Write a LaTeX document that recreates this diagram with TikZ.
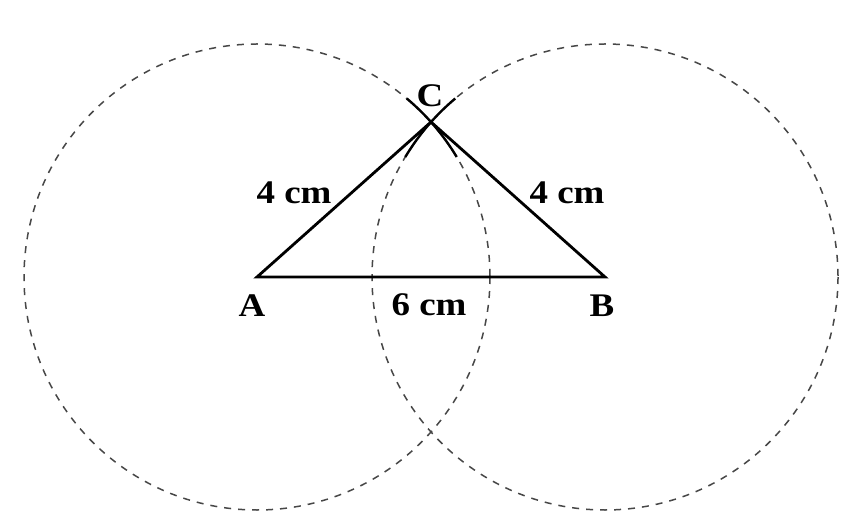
\documentclass[tikz,border=0pt]{standalone}
\usepackage{fontspec}
\setmainfont{Liberation Serif}
\begin{document}
\begin{tikzpicture}[x=1pt,y=-1pt,
  construct/.style={draw=black!72, line width=1.5pt, dash pattern=on 7pt off 7pt},
  side/.style={draw=black, line width=2.8pt, line cap=round, line join=miter},
  arcmark/.style={draw=black, line width=2.4pt},
  lbl/.style={font=\fontsize{33}{36}\selectfont\bfseries, inner sep=0pt, xscale=1.12}]
\useasboundingbox (0,0) rectangle (856,526);
\fill[white] (0,0) rectangle (856,526);
\coordinate (A) at (257,277);
\coordinate (B) at (605,277);
\coordinate (C) at (431,122);
% construction circles
\draw[construct] (A) circle[radius=233];
\draw[construct] (B) circle[radius=233];
% arc marks at C
\draw[arcmark] (A) ++(-31:233) arc[start angle=-31, end angle=-50, radius=233];
\draw[arcmark] (B) ++(-130:233) arc[start angle=-130, end angle=-149, radius=233];
% triangle
\draw[side] (A) -- (C) -- (B) -- cycle;
% labels
\node[lbl] (lA) at (252,306) {A};
\node[lbl] (lB) at (602,306) {B};
\node[lbl] (lC) at (430,96) {C};
\node[lbl] (lAC) at (294,193) {4 cm};
\node[lbl] (lBC) at (567,193) {4 cm};
\node[lbl] (lAB) at (429,305) {6 cm};
\end{tikzpicture}
\end{document}
